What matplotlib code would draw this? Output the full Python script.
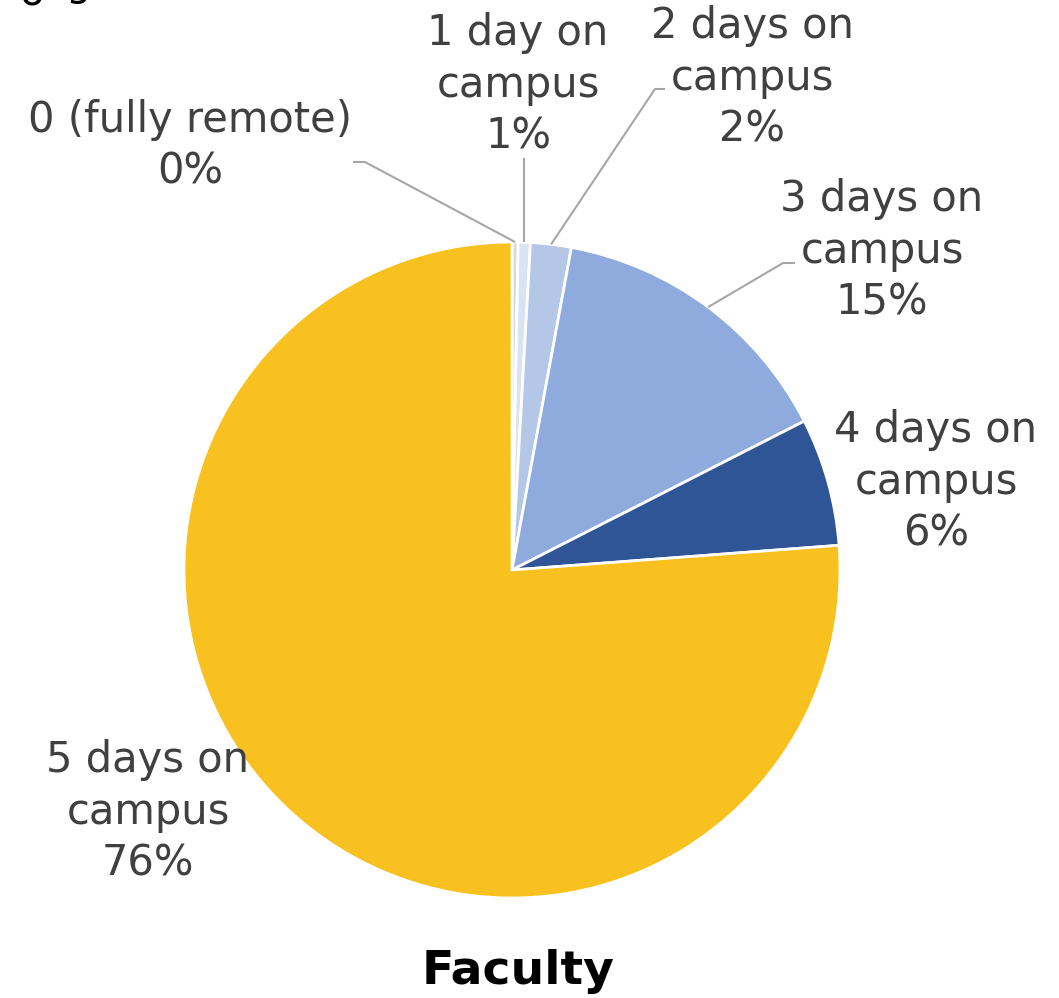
import numpy as np
import matplotlib.pyplot as plt

# share of faculty by days on campus (percent)
categories = ['0 (fully remote)', '1 day on\ncampus', '2 days on\ncampus',
              '3 days on\ncampus', '4 days on\ncampus', '5 days on\ncampus']
values = [0.3, 0.6, 2.0, 14.6, 6.3, 76.2]
colors = ['#d9d9d9', '#dae3f3', '#b4c7e7', '#8faadc', '#2f5597', '#f8c120']
title = 'Faculty'

W, H = 1059, 998
plt.rcParams['font.family'] = ['DejaVu Sans']

fig = plt.figure(figsize=(W / 100, H / 100), dpi=100)
ax = fig.add_axes([0, 0, 1, 1])

cx, cy, r = 512, H - 570, 328
wedges, _ = ax.pie(values, colors=colors, startangle=90, counterclock=False,
                   center=(cx, cy), radius=r,
                   wedgeprops=dict(edgecolor='white', linewidth=2))
ax.set_xlim(0, W)
ax.set_ylim(0, H)
ax.set_aspect('equal')
ax.axis('off')

# label centres (pixels from top-left)
label_pos = [(190, 146), (518, 85), (752, 78), (882, 251), (936, 482), (148, 812)]
for cat, v, (x, y) in zip(categories, values, label_pos):
    ax.text(x, H - y, f'{cat}\n{round(v)}%', ha='center', va='center',
            fontsize=30, color='#404040', linespacing=1.3)

# leader lines: label side points, then to the wedge edge
leaders = {0: [(353, 162), (365, 162)],
           1: [(524, 158)],
           2: [(665, 89), (655, 89)],
           3: [(795, 263), (783, 263)]}
for i, pts in leaders.items():
    w = wedges[i]
    a = np.deg2rad((w.theta1 + w.theta2) / 2)
    xs = [p[0] for p in pts] + [cx + r * np.cos(a)]
    ys = [H - p[1] for p in pts] + [cy + r * np.sin(a)]
    if i == 1:
        xs[0] = xs[-1]
    ax.plot(xs, ys, color='#a6a6a6', lw=1.5, solid_capstyle='butt')

# cut-off title text at the very top
ax.text(32, H - 5, 'o', ha='center', va='baseline', fontsize=29, color='black')
ax.text(78, H + 5, 'g', ha='center', va='baseline', fontsize=29, color='black')

ax.text(518, H - 971, title, ha='center', va='center', fontsize=34,
        fontweight='bold', color='black')

fig.savefig('out.png', dpi=100)
